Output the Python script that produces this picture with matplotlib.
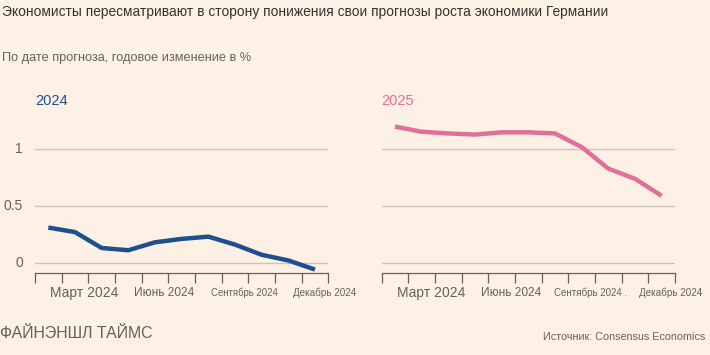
import matplotlib
matplotlib.use("Agg")
import matplotlib.pyplot as plt
from matplotlib.transforms import blended_transform_factory

# данные: прогноз на 2024 и 2025 по месяцу прогноза (середина месяца)
months = ["янв", "фев", "мар", "апр", "май", "июн", "июл", "авг", "сен", "окт", "ноя"]
forecast_2024 = [0.31, 0.27, 0.13, 0.11, 0.18, 0.21, 0.23, 0.16, 0.07, 0.02, -0.06]
forecast_2025 = [1.20, 1.155, 1.14, 1.13, 1.15, 1.15, 1.14, 1.02, 0.83, 0.74, 0.59]

tick_labels_left = ["Март 2024", "Июнь 2024", "Сентябрь 2024", "Декабрь 2024"]
tick_labels_right = ["Март 2024", "Июнь 2024", "Сентябрь 2024 .", "Декабрь 2024"]
y_ticks = [0, 0.5, 1]
y_tick_labels = ["0", "0.5", "1"]

BG = "#fdf1e6"
BLUE = "#1f4f8f"
PINK = "#e26f99"
GRID = "#cdc3ba"
TEXT = "#66605c"
SANS = "Liberation Sans"

fig = plt.figure(figsize=(7.1, 3.55), dpi=100, facecolor=BG)
renderer = fig.canvas.get_renderer()


def fit(t, width_px):
    # подгоняем размер шрифта под ширину текста на картинке
    for _ in range(4):
        w = t.get_window_extent(renderer).width
        t.set_fontsize(t.get_fontsize() * width_px / w)
    return t


x = [i + 0.5 for i in range(len(months))]
label_pos = [2, 5, 8, 11]
label_widths = [68, 60, 67, 63]


def setup(ax, data, color, year, tick_labels, show_y):
    ax.set_facecolor(BG)
    ax.set_xlim(0, 11)
    ax.set_ylim(-0.088, 1.3)
    for y in y_ticks:
        ax.axhline(y, color=GRID, lw=1, zorder=1)
    ax.plot(x, data, color=color, lw=3.2, solid_capstyle="butt",
            solid_joinstyle="round", zorder=3)
    for s in ["top", "right", "left"]:
        ax.spines[s].set_visible(False)
    ax.spines["bottom"].set_color(TEXT)
    ax.spines["bottom"].set_linewidth(0.9)
    ax.set_xticks(range(12))
    ax.set_xticklabels([])
    ax.tick_params(axis="x", length=7, width=0.9, color=TEXT)
    ax.set_yticks([])
    trans = blended_transform_factory(ax.transData, ax.transAxes)
    for p, lab, wpx in zip(label_pos, tick_labels, label_widths):
        if lab.endswith("."):
            wpx += 6
        t = ax.text(p - 0.15, -0.13, lab, transform=trans, ha="center", va="center",
                    fontsize=9, color=TEXT, family=SANS)
        fit(t, wpx)
    ax.text(0, 1.045, year, transform=ax.transAxes, ha="left", va="bottom",
            fontsize=10.5, color=color, family=SANS)
    if show_y:
        ty = blended_transform_factory(fig.transFigure, ax.transData)
        for y, lab in zip(y_ticks, y_tick_labels):
            ax.text(23 / 710, y, lab, transform=ty, ha="right", va="center",
                    fontsize=10, color=TEXT, family=SANS)


ax1 = fig.add_axes([35 / 710, 82.3 / 355, 293.3 / 710, 157.4 / 355])
ax2 = fig.add_axes([381.7 / 710, 82.3 / 355, 293.3 / 710, 157.4 / 355])
setup(ax1, forecast_2024, BLUE, "2024", tick_labels_left, True)
setup(ax2, forecast_2025, PINK, "2025", tick_labels_right, False)

title = fig.text(2 / 710, 1 - 12 / 355,
                 "Экономисты пересматривают в сторону понижения свои прогнозы роста экономики Германии",
                 ha="left", va="center", fontsize=12, color="#33302e", family=SANS)
fit(title, 598)
sub = fig.text(2 / 710, 1 - 58 / 355, "По дате прогноза, годовое изменение в %",
               ha="left", va="center", fontsize=9.5, color=TEXT, family=SANS)
fit(sub, 250)
ft = fig.text(0, 1 - 333 / 355, "ФАЙНЭНШЛ ТАЙМС", ha="left", va="center",
              fontsize=14, color=TEXT, family=SANS)
fit(ft, 153)
src = fig.text(705 / 710, 1 - 337 / 355, "Источник: Consensus Economics", ha="right",
               va="center", fontsize=9.8, color=TEXT, family=SANS)
fit(src, 163)

fig.savefig("out.png", dpi=100, facecolor=BG)
